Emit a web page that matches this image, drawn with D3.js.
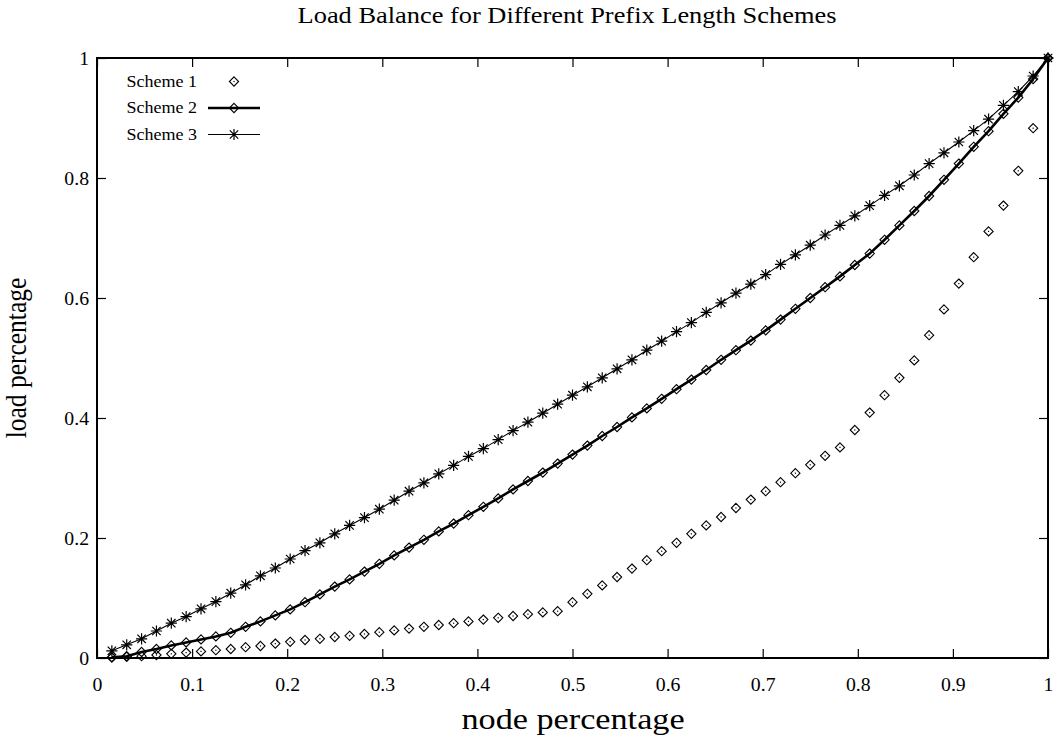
<!DOCTYPE html>
<html>
<head>
<meta charset="utf-8">
<script src="https://cdn.jsdelivr.net/npm/d3@7"></script>
<style>
  body { margin: 0; background: #fff; }
  svg { display: block; }
  text { font-family: "Liberation Serif", "Times New Roman", serif; fill: #000; }
</style>
</head>
<body>
<svg id="chart" width="1054" height="739"></svg>
<script>
// Node fraction sampled on a grid of 64 steps
const nodeFraction = d3.range(1, 65).map(i => i / 64);

// Cumulative load fraction for each prefix-length scheme
const scheme1 = [0.001, 0.002, 0.003, 0.005, 0.007, 0.009, 0.011, 0.013, 0.015, 0.018,
                 0.020, 0.024, 0.027, 0.030, 0.032, 0.035, 0.037, 0.040, 0.043, 0.046,
                 0.049, 0.052, 0.055, 0.058, 0.061, 0.064, 0.067, 0.070, 0.073, 0.076,
                 0.078, 0.093, 0.107, 0.121, 0.135, 0.149, 0.163, 0.178, 0.192, 0.207,
                 0.221, 0.235, 0.250, 0.264, 0.278, 0.293, 0.308, 0.322, 0.337, 0.351,
                 0.380, 0.409, 0.438, 0.467, 0.496, 0.538, 0.581, 0.624, 0.668, 0.711,
                 0.754, 0.812, 0.883, 1.000];
const scheme2 = [0.001, 0.003, 0.010, 0.015, 0.021, 0.026, 0.031, 0.036, 0.042, 0.052,
                 0.061, 0.071, 0.081, 0.093, 0.106, 0.119, 0.131, 0.144, 0.157, 0.171,
                 0.184, 0.197, 0.211, 0.224, 0.238, 0.252, 0.266, 0.281, 0.295, 0.309,
                 0.324, 0.339, 0.354, 0.370, 0.385, 0.401, 0.416, 0.432, 0.448, 0.464,
                 0.480, 0.497, 0.513, 0.529, 0.546, 0.564, 0.582, 0.600, 0.618, 0.636,
                 0.655, 0.674, 0.697, 0.721, 0.745, 0.770, 0.797, 0.824, 0.852, 0.878,
                 0.907, 0.934, 0.965, 1.000];
const scheme3 = [0.012, 0.022, 0.032, 0.045, 0.058, 0.069, 0.082, 0.094, 0.108, 0.122,
                 0.137, 0.150, 0.165, 0.179, 0.192, 0.207, 0.221, 0.234, 0.248, 0.263,
                 0.278, 0.292, 0.307, 0.321, 0.336, 0.349, 0.364, 0.379, 0.393, 0.408,
                 0.423, 0.438, 0.452, 0.467, 0.482, 0.497, 0.513, 0.528, 0.544, 0.559,
                 0.576, 0.592, 0.608, 0.623, 0.639, 0.656, 0.672, 0.688, 0.705, 0.721,
                 0.737, 0.754, 0.771, 0.787, 0.805, 0.824, 0.842, 0.860, 0.879, 0.898,
                 0.921, 0.944, 0.970, 1.000];

const seriesNames = ["Scheme 1", "Scheme 2", "Scheme 3"];
const xTicks = [0, 0.1, 0.2, 0.3, 0.4, 0.5, 0.6, 0.7, 0.8, 0.9, 1];
const yTicks = [0, 0.2, 0.4, 0.6, 0.8, 1];
const xTickLabels = ["0", "0.1", "0.2", "0.3", "0.4", "0.5", "0.6", "0.7", "0.8", "0.9", "1"];
const yTickLabels = ["0", "0.2", "0.4", "0.6", "0.8", "1"];

const svg = d3.select("#chart");
const W = 1054, H = 739;
const plot = { left: 97, right: 1048, top: 58, bottom: 658 };

const x = d3.scaleLinear().domain([0, 1]).range([plot.left, plot.right]);
const y = d3.scaleLinear().domain([0, 1]).range([plot.bottom, plot.top]);

svg.append("rect").attr("width", W).attr("height", H).attr("fill", "#fff");

// Place a text at (tx, ty), optionally widened horizontally by sx
function wideText(parent, tx, ty, str, size, anchor, sx) {
  return parent.append("text")
    .attr("transform", `translate(${tx},${ty}) scale(${sx},1)`)
    .attr("text-anchor", anchor).attr("font-size", size).text(str);
}

// Axes with inward ticks, mirrored on top and right
const tick = 9;
const tickFont = 19, tickSX = 1.04;
const fmtX = d => xTickLabels[xTicks.indexOf(d)];
const fmtY = d => yTickLabels[yTicks.indexOf(d)];

const styleAxis = g => {
  g.select(".domain").remove();
  g.selectAll(".tick line").attr("stroke", "#000").attr("stroke-width", 1.2);
  g.selectAll(".tick text").attr("font-size", tickFont).attr("font-family", "Liberation Serif")
    .attr("fill", "#000").attr("transform", `scale(${tickSX},1)`);
};

svg.append("g").attr("transform", `translate(0,${plot.bottom})`)
  .call(d3.axisBottom(x).tickValues(xTicks).tickFormat(fmtX).tickSize(-tick).tickPadding(19.5))
  .call(styleAxis);
svg.append("g").attr("transform", `translate(0,${plot.top})`)
  .call(d3.axisTop(x).tickValues(xTicks).tickFormat("").tickSize(-tick))
  .call(styleAxis);
svg.append("g").attr("transform", `translate(${plot.left},0)`)
  .call(d3.axisLeft(y).tickValues(yTicks).tickFormat(fmtY).tickSize(-tick).tickPadding(7.7))
  .call(styleAxis);
svg.append("g").attr("transform", `translate(${plot.right},0)`)
  .call(d3.axisRight(y).tickValues(yTicks).tickFormat("").tickSize(-tick))
  .call(styleAxis);

// Frame
svg.append("rect")
  .attr("x", plot.left).attr("y", plot.top)
  .attr("width", plot.right - plot.left).attr("height", plot.bottom - plot.top)
  .attr("fill", "none").attr("stroke", "#000").attr("stroke-width", 2);

// Markers
const diamondPath = r => `M0,${-r}L${r},0L0,${r}L${-r},0Z`;
function drawDiamond(g, cx, cy) {
  g.append("path").attr("transform", `translate(${cx},${cy})`)
    .attr("d", diamondPath(4.6)).attr("fill", "none").attr("stroke", "#000").attr("stroke-width", 1.1);
  g.append("rect").attr("x", cx - 0.6).attr("y", cy - 0.6).attr("width", 1.2).attr("height", 1.2).attr("fill", "#000");
}
function drawStar(g, cx, cy) {
  const r = 5.6, d = 4.2;
  g.append("path")
    .attr("d", `M${cx - r},${cy}L${cx + r},${cy}M${cx},${cy - r}L${cx},${cy + r}` +
               `M${cx - d},${cy - d}L${cx + d},${cy + d}M${cx - d},${cy + d}L${cx + d},${cy - d}`)
    .attr("stroke", "#000").attr("stroke-width", 1.2).attr("fill", "none");
}

const line = d3.line().x(d => x(d[0])).y(d => y(d[1]));
const pts = vals => nodeFraction.map((f, i) => [f, vals[i]]);

const marks = svg.append("g");

// Scheme 3: thin line with asterisks
marks.append("path").datum(pts(scheme3)).attr("d", line)
  .attr("fill", "none").attr("stroke", "#000").attr("stroke-width", 1.1);
pts(scheme3).forEach(p => drawStar(marks, x(p[0]), y(p[1])));

// Scheme 2: thick line with diamonds
marks.append("path").datum(pts(scheme2)).attr("d", line)
  .attr("fill", "none").attr("stroke", "#000").attr("stroke-width", 2.6);
pts(scheme2).forEach(p => drawDiamond(marks, x(p[0]), y(p[1])));

// Scheme 1: diamonds only
pts(scheme1).forEach(p => drawDiamond(marks, x(p[0]), y(p[1])));

// Legend
const legend = svg.append("g");
const legendRows = [81.5, 108, 134.5];
seriesNames.forEach((name, i) => {
  const cy = legendRows[i];
  wideText(legend, 197, cy + 5, name, 17.5, "end", 1.03);
  if (i === 1) {
    legend.append("line").attr("x1", 208).attr("x2", 260).attr("y1", cy).attr("y2", cy)
      .attr("stroke", "#000").attr("stroke-width", 2.6);
  } else if (i === 2) {
    legend.append("line").attr("x1", 208).attr("x2", 260).attr("y1", cy).attr("y2", cy)
      .attr("stroke", "#000").attr("stroke-width", 1.1);
  }
  if (i === 2) drawStar(legend, 234, cy); else drawDiamond(legend, 234, cy);
});

// Titles
wideText(svg, 567, 23, "Load Balance for Different Prefix Length Schemes", 24, "middle", 1.1);
wideText(svg, 573, 729, "node percentage", 29.5, "middle", 1.16);
svg.append("text").attr("transform", `translate(26,358) scale(1.12,1) rotate(-90)`)
  .attr("text-anchor", "middle").attr("font-size", 25.5).text("load percentage");
</script>
</body>
</html>
